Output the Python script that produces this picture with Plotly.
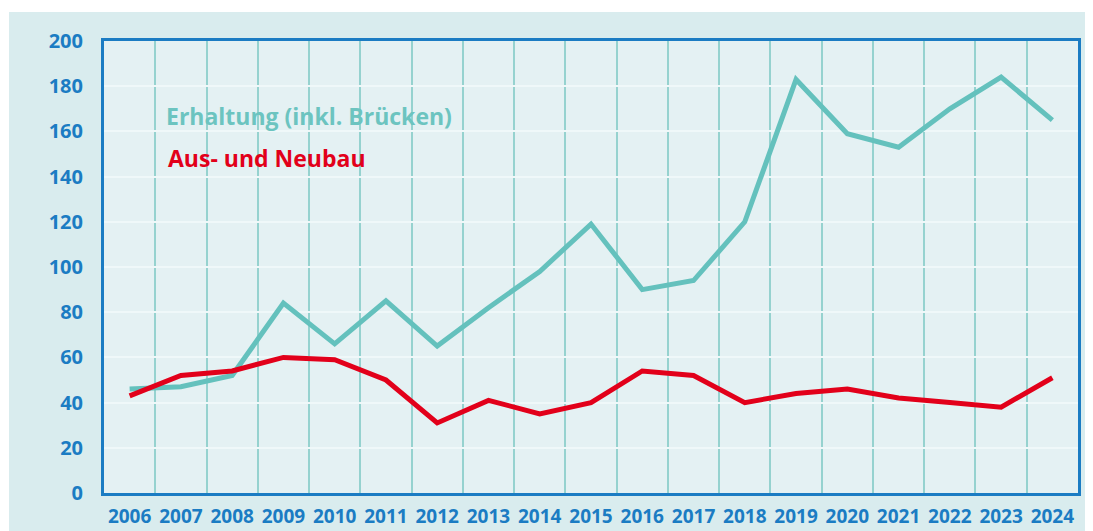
import plotly.graph_objects as go

years = list(range(2006, 2025))
erhaltung = [46, 47, 52, 84, 66, 85, 65, 82, 98, 119, 90, 94, 120, 183, 159, 153, 170, 184, 165]
neubau = [43, 52, 54, 60, 59, 50, 31, 41, 35, 40, 54, 52, 40, 44, 46, 42, 40, 38, 51]
y_ticks = [0, 20, 40, 60, 80, 100, 120, 140, 160, 180, 200]

TEAL = "#64c1bd"
RED = "#e2001a"
BLUE = "#1b7cc3"
FONT = "Open Sans"

fig = go.Figure()
fig.add_trace(go.Scatter(x=years, y=erhaltung, mode="lines",
                         line=dict(color=TEAL, width=5), name="Erhaltung (inkl. Brücken)"))
fig.add_trace(go.Scatter(x=years, y=neubau, mode="lines",
                         line=dict(color=RED, width=5), name="Aus- und Neubau"))

# page body has an 8px margin; figure spans reference pixels 8..1093 / 8..531
OFF = 8
W, H = 1093 - OFF, 531 - OFF
# plot area in reference pixels: x 104..1078, y 41..493
L, R, T, B = 104 - OFF, 1093 - 1078, 41 - OFF, 531 - 493
pw, ph = W - L - R, H - T - B

def px(x_ref):
    return (x_ref - OFF - L) / pw

def py(y_ref):
    return (H - B - (y_ref - OFF)) / ph

fig.update_layout(
    width=W, height=H,
    margin=dict(l=L, r=R, t=T, b=B, autoexpand=False),
    paper_bgcolor="#d9ecee",
    plot_bgcolor="#e4f1f3",
    showlegend=False,
    font=dict(family=FONT, color=BLUE),
    xaxis=dict(
        range=[2005.5, 2024.5], automargin=False,
        tickvals=years, ticktext=[str(y) for y in years],
        showgrid=False, zeroline=False,
        showline=True, linecolor=BLUE, linewidth=3, mirror=True,
        ticks="", ticklabelstandoff=4,
        tickfont=dict(size=19, family=FONT, color=BLUE, weight="bold"),
        minor=dict(tickvals=[y + 0.5 for y in years[:-1]], showgrid=True,
                   gridcolor="#95d2cf", gridwidth=1.5, ticks=""),
    ),
    yaxis=dict(
        range=[0, 200], tickvals=y_ticks, automargin=False,
        showgrid=True, gridcolor="#eff8f9", gridwidth=2, zeroline=False,
        showline=True, linecolor=BLUE, linewidth=3, mirror=True,
        ticks="", ticklabelstandoff=14,
        tickfont=dict(size=20, family=FONT, color=BLUE, weight="bold"),
    ),
    shapes=[
        dict(type="rect", xref="paper", yref="paper", layer="below",
             x0=px(0), x1=px(1100), y0=py(12), y1=py(0),
             fillcolor="white", line=dict(width=0)),
        dict(type="rect", xref="paper", yref="paper", layer="below",
             x0=px(0), x1=px(9), y0=py(540), y1=py(0),
             fillcolor="white", line=dict(width=0)),
    ],
    annotations=[
        dict(text="Erhaltung (inkl. Brücken)", xref="paper", yref="paper",
             x=px(164), y=py(116), xanchor="left", yanchor="middle", showarrow=False,
             font=dict(size=23, family=FONT, color="#6cc4c0", weight="bold")),
        dict(text="Aus- und Neubau", xref="paper", yref="paper",
             x=px(166), y=py(158), xanchor="left", yanchor="middle", showarrow=False,
             font=dict(size=23, family=FONT, color=RED, weight="bold")),
    ],
)

fig.write_html("out.html")
